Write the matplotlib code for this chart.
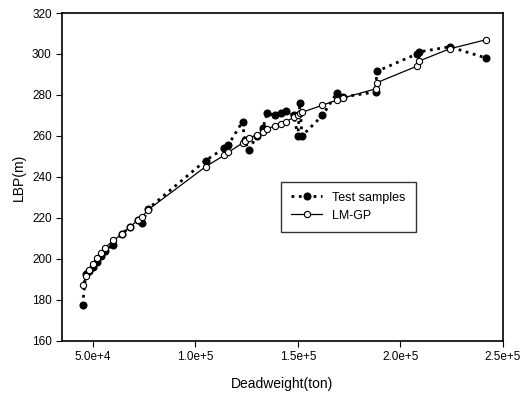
import numpy as np
import matplotlib.pyplot as plt
from matplotlib.ticker import FuncFormatter

plt.rcParams['font.family'] = ['Liberation Sans', 'DejaVu Sans']

# deadweight (ton), shared by both series
dwt = [45000, 46500, 48000, 50000, 52000, 54000, 56000, 60000, 64000, 68000,
       72000, 74000, 77000, 105000, 114000, 116000, 123000, 124000, 126000, 130000,
       133000, 135000, 139000, 142000, 144000, 148000, 150000, 151000, 152000, 162000,
       169000, 172000, 188000, 188500, 208000, 209000, 224000, 242000]

test_lbp = [177.5, 192.5, 194, 196, 198.5, 201.5, 204, 207, 212, 215.5,
            219, 217.5, 224.5, 248, 254, 255.5, 267, 258, 253, 260,
            264, 271, 270, 271, 272, 270, 260, 276, 260, 270,
            281, 279, 281.5, 291.5, 300, 301, 303.5, 298]

lmgp_lbp = [187, 191.5, 194.5, 197.5, 200.5, 203, 205.5, 209, 212, 215.5,
            219, 220.5, 224, 245, 250.5, 252, 256.5, 257.5, 259, 260.5,
            262, 263.5, 265, 266, 267, 269, 270, 271, 271.5, 275,
            277.5, 278.5, 283, 286, 294, 296.5, 302.5, 307]

fig = plt.figure(figsize=(5.31, 3.94), dpi=100)
ax = fig.add_axes([0.117, 0.135, 0.83, 0.832])

ax.plot(dwt, test_lbp, linestyle=':', linewidth=2.0, color='black',
        marker='o', markersize=4.8, markerfacecolor='black', label='Test samples')
ax.plot(dwt, lmgp_lbp, linestyle='-', linewidth=0.9, color='black',
        marker='o', markersize=4.5, markerfacecolor='white', markeredgewidth=0.8,
        label='LM-GP')

ax.set_xlim(35000, 250000)
ax.set_ylim(160, 320)
ax.set_xticks([50000, 100000, 150000, 200000, 250000])
ax.set_yticks(np.arange(160, 321, 20))

def sci(v, pos):
    e = int(np.floor(np.log10(v)))
    return '%.1fe+%d' % (v / 10 ** e, e)

ax.xaxis.set_major_formatter(FuncFormatter(sci))
ax.tick_params(direction='out', length=4, labelsize=8.5, top=False, right=False)
for s in ax.spines.values():
    s.set_linewidth(1.2)

ax.set_xlabel('Deadweight(ton)', fontsize=10, labelpad=10)
ax.set_ylabel('LBP(m)', fontsize=10, labelpad=4)

leg = ax.legend(loc='upper left', bbox_to_anchor=(0.483, 0.505), fontsize=9,
                frameon=True, fancybox=False, handlelength=2.5, borderpad=0.8)
leg.get_frame().set_edgecolor('black')
leg.get_frame().set_linewidth(1.0)

fig.savefig('out.png', dpi=100)
